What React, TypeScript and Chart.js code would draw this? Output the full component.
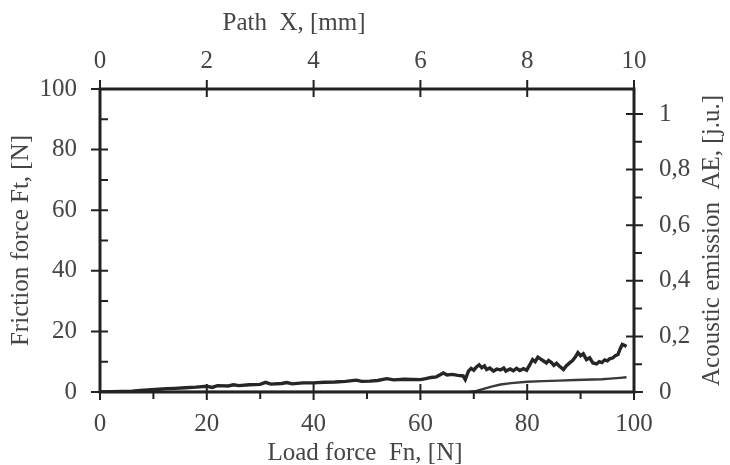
import React, { useEffect, useRef } from 'react';
import { Chart, registerables } from 'chart.js';

Chart.register(...registerables);

// Friction force Ft [N] vs load force Fn [N]
const FRICTION_FN = [0, 2, 4, 6, 7.5, 9, 11, 12.5, 14, 16, 18, 20, 21, 22, 24, 25, 26, 28, 30, 31, 32, 34, 35, 36, 38, 40, 42, 44, 46, 48, 49, 50.5, 52, 53.7, 55, 57, 60, 61, 62, 63, 64.3, 65, 66, 67, 68, 68.4, 69, 69.5, 70, 70.5, 71, 71.5, 72, 72.4, 73, 73.7, 74.3, 75, 75.6, 76, 76.8, 77.4, 78, 78.6, 79.3, 79.9, 80.5, 81, 81.5, 82, 82.4, 83, 83.6, 84, 84.5, 85, 85.5, 86, 86.8, 87.3, 88, 88.5, 89, 89.5, 90, 90.5, 91.1, 91.7, 92.3, 93, 93.5, 94, 94.5, 95, 95.5, 96, 96.5, 97, 97.4, 97.8, 98.2, 98.6];
const FRICTION_FT = [0, 0.1, 0.2, 0.3, 0.5, 0.7, 0.9, 1.1, 1.2, 1.4, 1.6, 1.9, 1.5, 2.1, 2.0, 2.4, 2.1, 2.4, 2.5, 3.2, 2.6, 2.8, 3.1, 2.7, 3.0, 3.0, 3.2, 3.3, 3.5, 3.9, 3.5, 3.6, 3.8, 4.4, 4.0, 4.2, 4.1, 4.4, 4.8, 5.0, 6.3, 5.6, 5.8, 5.5, 5.3, 4.1, 6.9, 7.8, 7.2, 8.3, 9.0, 8.0, 8.6, 7.4, 7.9, 6.9, 7.6, 7.3, 7.9, 6.9, 7.6, 7.0, 7.8, 7.1, 7.7, 7.2, 9.0, 10.7, 10.0, 11.5, 11.0, 10.3, 9.6, 10.4, 9.8, 8.8, 9.5, 8.6, 7.4, 8.6, 9.7, 10.4, 11.5, 13.0, 12.0, 12.6, 10.7, 11.3, 9.6, 9.3, 10.0, 9.7, 10.6, 10.3, 11.0, 11.2, 12.0, 12.4, 14.2, 15.7, 15.4, 15.0];

// Acoustic emission AE [j.u.] vs load force Fn [N]
const AE_FN = [0, 69, 70.5, 72, 73.5, 75, 77, 80, 83, 86, 89, 92.3, 94, 95.5, 97.4, 98.6];
const AE_VALUES = [0, 0, 0.004, 0.012, 0.02, 0.027, 0.032, 0.037, 0.039, 0.041, 0.043, 0.045, 0.046, 0.048, 0.051, 0.053];

// Tick values
const LOAD_TICKS = [0, 20, 40, 60, 80, 100];
const LOAD_MINOR = [10, 30, 50, 70, 90];
const PATH_TICKS = [0, 2, 4, 6, 8, 10];
const FT_TICKS = [0, 20, 40, 60, 80, 100];
const FT_MINOR = [10, 30, 50, 70, 90];
const AE_TICKS = [0, 0.2, 0.4, 0.6, 0.8, 1];
const AE_MINOR = [0.1, 0.3, 0.5, 0.7, 0.9];

const TITLE_TOP = 'Path  X, [mm]';
const TITLE_BOTTOM = 'Load force  Fn, [N]';
const TITLE_LEFT = 'Friction force Ft, [N]';
const TITLE_RIGHT = 'Acoustic emission  AE, [j.u.]';

const FONT = '"Liberation Serif", "Times New Roman", serif';
const TEXT_COLOR = '#454545';
const LINE_COLOR = '#222222';

const fmtComma = (v: number) => (Number.isInteger(v) ? String(v) : v.toFixed(1).replace('.', ','));

const framePlugin = {
  id: 'frame',
  afterDatasetsDraw(chart: any) {
    const ctx = chart.ctx as CanvasRenderingContext2D;
    const { left, right, top, bottom } = chart.chartArea;
    const s = chart.scales;
    ctx.save();
    ctx.strokeStyle = LINE_COLOR;
    ctx.lineWidth = 2;
    ctx.beginPath();
    FT_TICKS.forEach((v) => {
      const y = s.y.getPixelForValue(v);
      ctx.moveTo(left - 9, y);
      ctx.lineTo(left + 8, y);
    });
    FT_MINOR.forEach((v) => {
      const y = s.y.getPixelForValue(v);
      ctx.moveTo(left, y);
      ctx.lineTo(left + 8, y);
    });
    AE_TICKS.forEach((v) => {
      const y = s.y2.getPixelForValue(v);
      ctx.moveTo(right - 8, y);
      ctx.lineTo(right + 9, y);
    });
    AE_MINOR.forEach((v) => {
      const y = s.y2.getPixelForValue(v);
      ctx.moveTo(right, y);
      ctx.lineTo(right + 8, y);
    });
    LOAD_TICKS.forEach((v) => {
      const x = s.x.getPixelForValue(v);
      ctx.moveTo(x, bottom - 8);
      ctx.lineTo(x, bottom + 8);
    });
    LOAD_MINOR.forEach((v) => {
      const x = s.x.getPixelForValue(v);
      ctx.moveTo(x, bottom);
      ctx.lineTo(x, bottom + 7);
    });
    PATH_TICKS.forEach((v) => {
      const x = s.x2.getPixelForValue(v);
      ctx.moveTo(x, top - 9);
      ctx.lineTo(x, top + 8);
    });
    ctx.stroke();
    ctx.lineWidth = 3;
    ctx.strokeRect(left, top, right - left, bottom - top);

    ctx.fillStyle = TEXT_COLOR;
    ctx.font = `25px ${FONT}`;
    ctx.textAlign = 'center';
    ctx.textBaseline = 'alphabetic';
    ctx.fillText(TITLE_TOP, 294, 30);
    ctx.fillText(TITLE_BOTTOM, 365, 460);
    ctx.textBaseline = 'middle';
    const cy = (top + bottom) / 2;
    ctx.save();
    ctx.translate(21, cy);
    ctx.rotate(-Math.PI / 2);
    ctx.fillText(TITLE_LEFT, 0, 0);
    ctx.restore();
    ctx.save();
    ctx.translate(712, cy);
    ctx.rotate(-Math.PI / 2);
    ctx.fillText(TITLE_RIGHT, 0, 0);
    ctx.restore();
    ctx.restore();
  },
};

const tickFont = { family: FONT, size: 25 };

export default function App() {
  const canvasRef = useRef<HTMLCanvasElement | null>(null);

  useEffect(() => {
    if (!canvasRef.current) return;
    const chart = new Chart(canvasRef.current, {
      type: 'line',
      data: {
        datasets: [
          {
            label: 'Friction force',
            data: FRICTION_FN.map((x, i) => ({ x, y: FRICTION_FT[i] })),
            borderColor: '#262626',
            borderWidth: 3.4,
            pointRadius: 0,
            tension: 0,
            xAxisID: 'x',
            yAxisID: 'y',
          },
          {
            label: 'Acoustic emission',
            data: AE_FN.map((x, i) => ({ x, y: AE_VALUES[i] })),
            borderColor: '#3a3a3a',
            borderWidth: 2.4,
            pointRadius: 0,
            tension: 0,
            xAxisID: 'x',
            yAxisID: 'y2',
          },
        ],
      },
      options: {
        responsive: true,
        maintainAspectRatio: false,
        animation: false,
        layout: { padding: 0 },
        plugins: { legend: { display: false }, tooltip: { enabled: false }, title: { display: false } },
        scales: {
          x: {
            type: 'linear',
            position: 'bottom',
            min: 0,
            max: 100,
            grid: { display: false, drawTicks: false },
            border: { display: false },
            afterBuildTicks: (sc: any) => { sc.ticks = LOAD_TICKS.map((value) => ({ value })); },
            afterFit: (sc: any) => { sc.height = 73; },
            ticks: { font: tickFont, color: TEXT_COLOR, padding: 17, maxRotation: 0, autoSkip: false },
          },
          x2: {
            type: 'linear',
            position: 'top',
            min: 0,
            max: 10,
            grid: { display: false, drawTicks: false },
            border: { display: false },
            afterBuildTicks: (sc: any) => { sc.ticks = PATH_TICKS.map((value) => ({ value })); },
            afterFit: (sc: any) => { sc.height = 89; },
            ticks: { font: tickFont, color: TEXT_COLOR, padding: 13, maxRotation: 0, autoSkip: false },
          },
          y: {
            type: 'linear',
            position: 'left',
            min: 0,
            max: 100,
            grid: { display: false, drawTicks: false },
            border: { display: false },
            afterBuildTicks: (sc: any) => { sc.ticks = FT_TICKS.map((value) => ({ value })); },
            afterFit: (sc: any) => { sc.width = 100; },
            ticks: { font: tickFont, color: TEXT_COLOR, padding: 23, autoSkip: false },
          },
          y2: {
            type: 'linear',
            position: 'right',
            min: 0,
            max: 1.09,
            grid: { display: false, drawTicks: false },
            border: { display: false },
            afterBuildTicks: (sc: any) => { sc.ticks = AE_TICKS.map((value) => ({ value })); },
            afterFit: (sc: any) => { sc.width = 96; },
            ticks: { font: tickFont, color: TEXT_COLOR, padding: 25, autoSkip: false, callback: (v: any) => fmtComma(Number(v)) },
          },
        },
      },
      plugins: [framePlugin],
    });
    return () => chart.destroy();
  }, []);

  return (
    <div style={{ position: 'fixed', left: 0, top: 0, width: 730, height: 465, background: '#ffffff' }}>
      <canvas ref={canvasRef} />
    </div>
  );
}
